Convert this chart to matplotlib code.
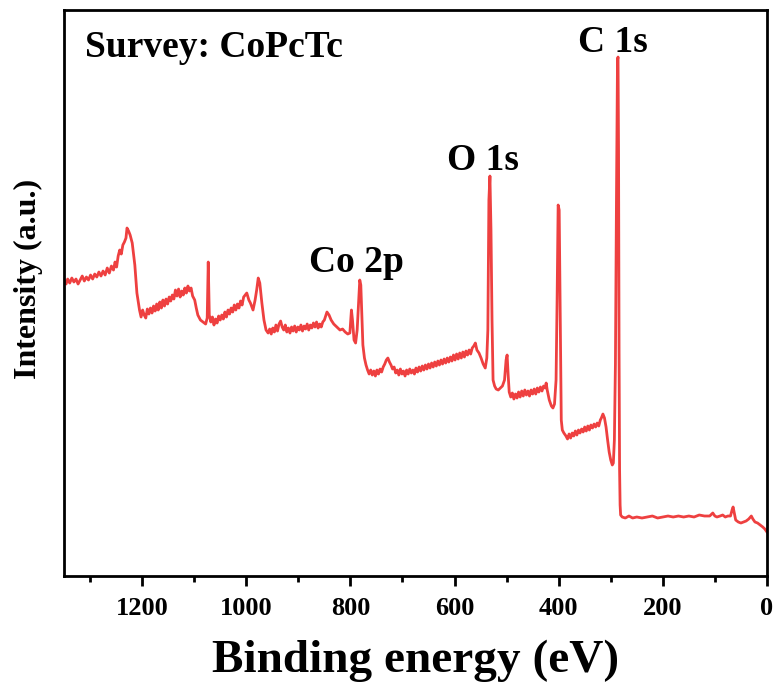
import matplotlib
matplotlib.use('Agg')
import matplotlib.pyplot as plt
from matplotlib.ticker import MultipleLocator

plt.rcParams['font.family'] = 'Liberation Serif'
plt.rcParams['font.weight'] = 'bold'

# Energía de enlace (eV)
energia = [1350, 1346, 1343, 1339, 1335, 1331, 1327, 1323, 1319, 1315, 1311, 1307,
           1303, 1299, 1295, 1291, 1287, 1283, 1279, 1275, 1271, 1267, 1263, 1259,
           1255, 1252, 1249, 1246, 1243, 1240, 1237, 1234, 1231, 1229, 1226, 1223,
           1219, 1214, 1210, 1205, 1202, 1199, 1196, 1193, 1190, 1187, 1184, 1181,
           1178, 1175, 1172, 1169, 1166, 1163, 1160, 1157, 1154, 1151, 1148, 1145,
           1142, 1139, 1136, 1133, 1130, 1127, 1124, 1121, 1118, 1115, 1112, 1109,
           1106, 1103, 1099, 1096, 1093, 1088, 1083, 1078, 1075, 1073, 1071, 1068,
           1065, 1062, 1059, 1056, 1053, 1050, 1047, 1044, 1041, 1038, 1035, 1032,
           1029, 1026, 1023, 1020, 1017, 1014, 1011, 1008, 1005, 1002, 999, 995,
           992, 987, 983, 980, 977, 974, 970, 966, 962, 958, 955, 952,
           949, 946, 943, 940, 937, 934, 931, 928, 925, 922, 919, 916,
           913, 910, 907, 904, 901, 898, 895, 892, 889, 886, 883, 880,
           877, 874, 871, 868, 865, 862, 859, 856, 853, 850, 847, 845,
           841, 837, 832, 826, 820, 815, 810, 805, 801, 798, 796, 793,
           790, 787, 784, 782, 780, 778, 776, 773, 770, 767, 764, 761,
           758, 755, 752, 749, 746, 743, 740, 737, 734, 731, 728, 725,
           722, 719, 716, 713, 710, 707, 704, 701, 698, 695, 692, 689,
           686, 683, 680, 677, 674, 671, 668, 665, 662, 659, 656, 653,
           650, 647, 644, 641, 638, 635, 632, 629, 626, 623, 620, 617,
           614, 611, 608, 605, 602, 599, 596, 593, 590, 587, 584, 581,
           578, 575, 572, 569, 566, 563, 560, 557, 553, 549, 545, 541,
           538, 536, 534, 532, 530, 528, 526, 523, 520, 516, 512, 508,
           504, 501, 499, 497, 495, 492, 489, 486, 483, 480, 477, 474,
           471, 468, 465, 462, 459, 456, 453, 450, 447, 444, 441, 438,
           435, 432, 429, 426, 424, 422, 418, 414, 411, 408, 405, 403,
           401, 399, 397, 395, 393, 390, 386, 383, 380, 377, 374, 371,
           368, 365, 362, 359, 356, 353, 350, 347, 344, 341, 338, 335,
           332, 329, 326, 323, 320, 318, 315, 312, 309, 306, 303, 300,
           297, 295, 293, 291, 289, 287, 286, 285, 284, 283, 282, 281,
           278, 272, 265, 258, 250, 240, 230, 220, 210, 200, 190, 180,
           170, 160, 150, 140, 130, 120, 110, 104, 100, 96, 90, 85,
           80, 75, 70, 67, 65, 63, 60, 55, 50, 45, 40, 35,
           30, 27, 23, 18, 13, 8, 4, 0]

# Intensidad (u.a.)
intensidad = [296, 292, 297, 293, 298, 294, 297, 292, 296, 300, 295, 299,
              296, 301, 297, 302, 299, 304, 300, 305, 301, 308, 303, 310,
              306, 314, 309, 320, 326, 322, 331, 334, 338, 348, 345, 341,
              333, 311, 283, 266, 259, 266, 261, 258, 267, 262, 268, 263,
              270, 265, 272, 266, 274, 268, 276, 270, 277, 272, 279, 275,
              281, 277, 286, 280, 287, 279, 285, 281, 288, 283, 290, 285,
              288, 280, 276, 268, 261, 256, 254, 252, 258, 314, 261, 254,
              259, 251, 257, 253, 260, 256, 261, 257, 264, 259, 266, 262,
              268, 264, 271, 266, 272, 268, 275, 271, 279, 281, 283, 276,
              273, 266, 276, 286, 298, 293, 273, 256, 246, 243, 247, 242,
              248, 244, 251, 245, 252, 255, 249, 246, 251, 244, 248, 243,
              249, 245, 250, 244, 249, 246, 251, 245, 250, 247, 252, 246,
              251, 248, 253, 249, 254, 248, 252, 249, 254, 256, 261, 264,
              261, 256, 252, 249, 246, 247, 244, 242, 243, 266, 256, 236,
              233, 246, 276, 296, 291, 261, 231, 218, 211, 206, 202, 206,
              201, 205, 200, 206, 202, 207, 204, 209, 212, 216, 218, 214,
              211, 207, 209, 203, 206, 201, 207, 202, 205, 200, 206, 202,
              207, 203, 206, 202, 208, 204, 209, 205, 210, 206, 211, 207,
              212, 208, 213, 209, 214, 210, 215, 211, 216, 212, 217, 213,
              218, 214, 219, 215, 221, 216, 222, 217, 223, 218, 224, 219,
              225, 221, 226, 222, 228, 230, 233, 226, 223, 218, 212, 208,
              218, 246, 376, 400, 346, 256, 196, 190, 187, 186, 188, 190,
              196, 216, 221, 201, 184, 179, 183, 177, 182, 178, 184, 179,
              185, 180, 186, 181, 185, 180, 186, 182, 187, 182, 188, 184,
              189, 185, 190, 188, 193, 186, 176, 170, 168, 172, 196, 276,
              371, 366, 256, 156, 146, 143, 140, 137, 142, 138, 143, 140,
              145, 141, 146, 143, 147, 144, 149, 145, 150, 146, 151, 148,
              152, 149, 153, 150, 156, 158, 162, 158, 149, 136, 124, 116,
              111, 113, 136, 212, 376, 516, 519, 426, 226, 106, 71, 61,
              59, 58, 60, 58, 59, 58, 59, 60, 58, 59, 60, 59,
              60, 59, 60, 59, 61, 60, 60, 63, 60, 59, 60, 61,
              59, 60, 60, 66, 69, 64, 56, 54, 53, 54, 55, 57,
              60, 57, 54, 53, 51, 49, 47, 44]

# Etiquetas de los picos
picos = ['C 1s', 'O 1s', 'Co 2p']
picos_x = [296, 545, 789]
picos_y = [524, 406, 304]

fig = plt.figure(figsize=(7.75, 6.97), dpi=100)
ax = fig.add_axes([0.0826, 0.1736, 0.907, 0.812])

ax.plot(energia, intensidad, color='#ee4040', linewidth=2.0)

ax.set_xlim(1350, 0)
ax.set_ylim(0, 566)
ax.xaxis.set_major_locator(MultipleLocator(200))
ax.xaxis.set_minor_locator(MultipleLocator(100))
ax.set_yticks([])

for lado in ax.spines.values():
    lado.set_linewidth(2.0)
ax.tick_params(axis='x', which='major', direction='out', length=7, width=2,
               labelsize=19, pad=8)
ax.tick_params(axis='x', which='minor', direction='out', length=4, width=2)

ax.set_xlabel('Binding energy (eV)', fontsize=34, fontweight='bold', labelpad=14)
ax.set_ylabel('Intensity (a.u.)', fontsize=23, fontweight='bold')
ax.yaxis.set_label_coords(-0.03, 0.525)

for texto, x, y in zip(picos, picos_x, picos_y):
    ax.text(x, y, texto, fontsize=27, fontweight='bold', ha='center', va='baseline')

ax.text(0.03, 0.917, 'Survey: CoPcTc', transform=ax.transAxes, fontsize=27,
        fontweight='bold', ha='left', va='baseline')

plt.savefig('out.png', dpi=100)
